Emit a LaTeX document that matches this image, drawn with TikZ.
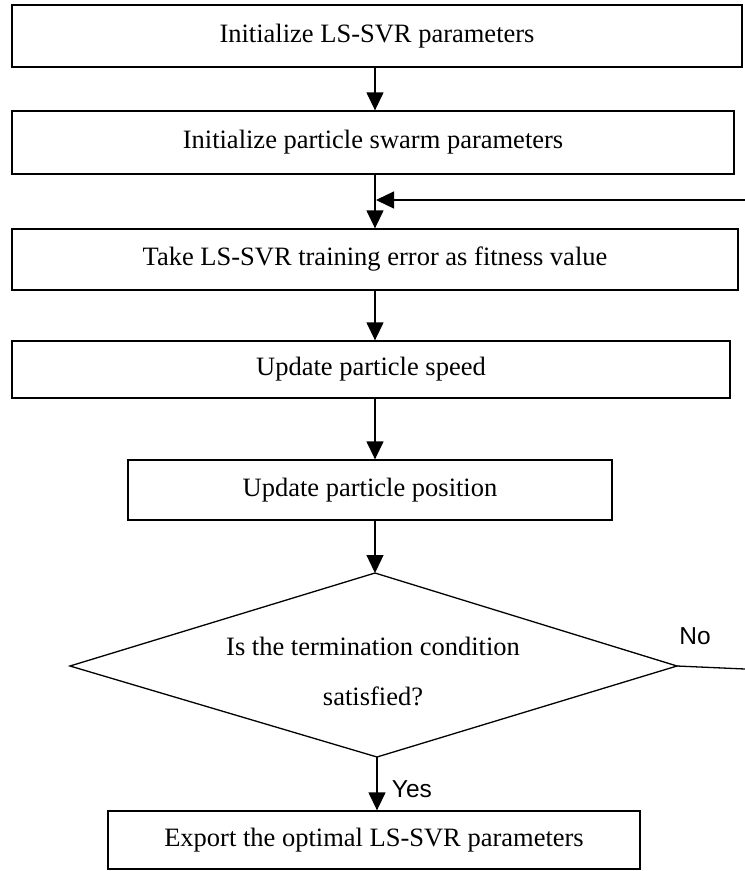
\documentclass[tikz,border=0pt]{standalone}
\usepackage{fontspec}
\setmainfont{Liberation Serif}
\newfontfamily\labelfont{Liberation Sans}
\usetikzlibrary{arrows.meta}
\usetikzlibrary{positioning}

\begin{document}
\begin{tikzpicture}[x=1pt,y=-1pt,
  stepbox/.style={draw,line width=1.3pt,rectangle,inner sep=0pt,font=\fontsize{26.5}{30}\selectfont},
  flow/.style={draw,line width=1.3pt,-{Triangle[width=17pt,length=18pt]}},
  answer/.style={font=\labelfont\fontsize{24.5}{28}\selectfont}]
\useasboundingbox (0,0) rectangle (745,871);

\node[stepbox,minimum width=730,minimum height=62] (init) at (377,36) {Initialize LS-SVR parameters};
\node[stepbox,minimum width=722,minimum height=63] (swarm) at (373,142.5) {Initialize particle swarm parameters};
\node[stepbox,minimum width=726,minimum height=61] (fit) at (375,259.5) {Take LS-SVR training error as fitness value};
\node[stepbox,minimum width=718,minimum height=57] (speed) at (371,369.5) {Update particle speed};
\node[stepbox,minimum width=484,minimum height=60] (pos) at (370,490) {Update particle position};

% decision
\coordinate (mid) at (375,0);
\coordinate (dt) at (375,573);
\coordinate (dr) at (677,666);
\coordinate (db) at (377,757);
\coordinate (dl) at (70,666);
\draw[line width=1.3pt] (dt) -- (dr) -- (db) -- (dl) -- cycle;
\node[font=\fontsize{26.5}{50}\selectfont,align=center] (cond) at (373,671) {Is the termination condition\\satisfied?};

\node[stepbox,minimum width=532,minimum height=58] (out) at (374,840) {Export the optimal LS-SVR parameters};

\draw[flow] (mid|-init.south) -- (mid|-swarm.north);
\draw[flow] (mid|-swarm.south) -- (mid|-fit.north);
\draw[flow] (mid|-fit.south) -- (mid|-speed.north);
\draw[flow] (mid|-speed.south) -- (mid|-pos.north);
\draw[flow] (mid|-pos.south) -- (dt);
\draw[flow] (db) -- (db|-out.north) node[answer,midway,right=11pt,yshift=-6pt] (yes) {Yes};

% loop back (runs past the right edge)
\coordinate (noend) at (745,669);
\coordinate (backin) at (745,200);
\draw[line width=1.3pt] (dr) -- (noend);
\node[answer] (no) at (695,636) {No};
\draw[flow] (backin) -- (376,200);
\end{tikzpicture}
\end{document}
